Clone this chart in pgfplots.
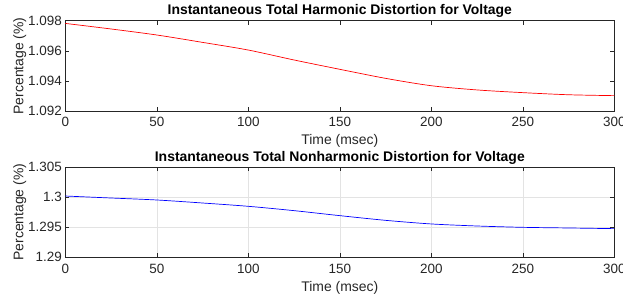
\documentclass[border=0pt]{standalone}
\usepackage{fontspec}
\setmainfont{Liberation Sans}
\usepackage{pgfplots}
\pgfplotsset{compat=1.18}
\definecolor{axgray}{gray}{0.15}
\begin{document}
\begin{tikzpicture}[x=1bp,y=1bp]
\path[use as bounding box] (-65.3bp,-184bp) rectangle (557.7bp,111bp);
\pgfplotsset{
  every axis/.append style={
    scale only axis, width=549bp, height=90.3bp,
    xmin=0, xmax=300, xtick={0,50,...,300},
    tick align=inside, major tick length=4bp,
    axis line style={axgray, line width=0.6pt},
    every tick/.style={axgray, line width=0.6pt},
    /pgf/number format/assume math mode=true,
    tick label style={font=\fontsize{13.5}{15}\selectfont, text=axgray},
    label style={font=\fontsize{14}{16}\selectfont, text=axgray},
    title style={font=\fontsize{14}{16}\selectfont\bfseries, yshift=-6.5bp},
    xlabel={Time (msec)},
    ylabel={Percentage (\%)},
    xlabel style={yshift=-1bp},
    ylabel style={yshift=-5bp},
    xticklabel style={yshift=-3bp},
  }
}
\begin{axis}[name=top, anchor=south west, at={(0,0)},
  ymin=1.092, ymax=1.098, ytick={1.092,1.094,1.096,1.098},
  yticklabels={1.092,1.094,1.096,1.098},
  title={Instantaneous Total Harmonic Distortion for Voltage}]
\addplot[red, line width=0.7pt, smooth] coordinates {
(0,1.09782) (25,1.09745) (50,1.09705) (75,1.09656) (100,1.09605) (125,1.09539)
(150,1.09477) (175,1.09417) (200,1.09368) (225,1.09340) (250,1.09322) (275,1.09308) (300,1.09302)};
\end{axis}
\begin{axis}[anchor=south west, at={(0,-146.3bp)},
  ymin=1.29, ymax=1.305, ytick={1.29,1.295,1.3,1.305},
  yticklabels={1.29,1.295,1.3,1.305},
  grid=major, major grid style={gray!22, line width=0.5pt},
  title={Instantaneous Total Nonharmonic Distortion for Voltage}]
\addplot[blue, line width=0.7pt, smooth] coordinates {
(0,1.30018) (25,1.29985) (50,1.29952) (75,1.29902) (100,1.29847) (125,1.29775)
(150,1.29692) (175,1.29614) (200,1.29554) (225,1.29520) (250,1.29498) (275,1.29487) (300,1.29476)};
\end{axis}
\end{tikzpicture}
\end{document}
